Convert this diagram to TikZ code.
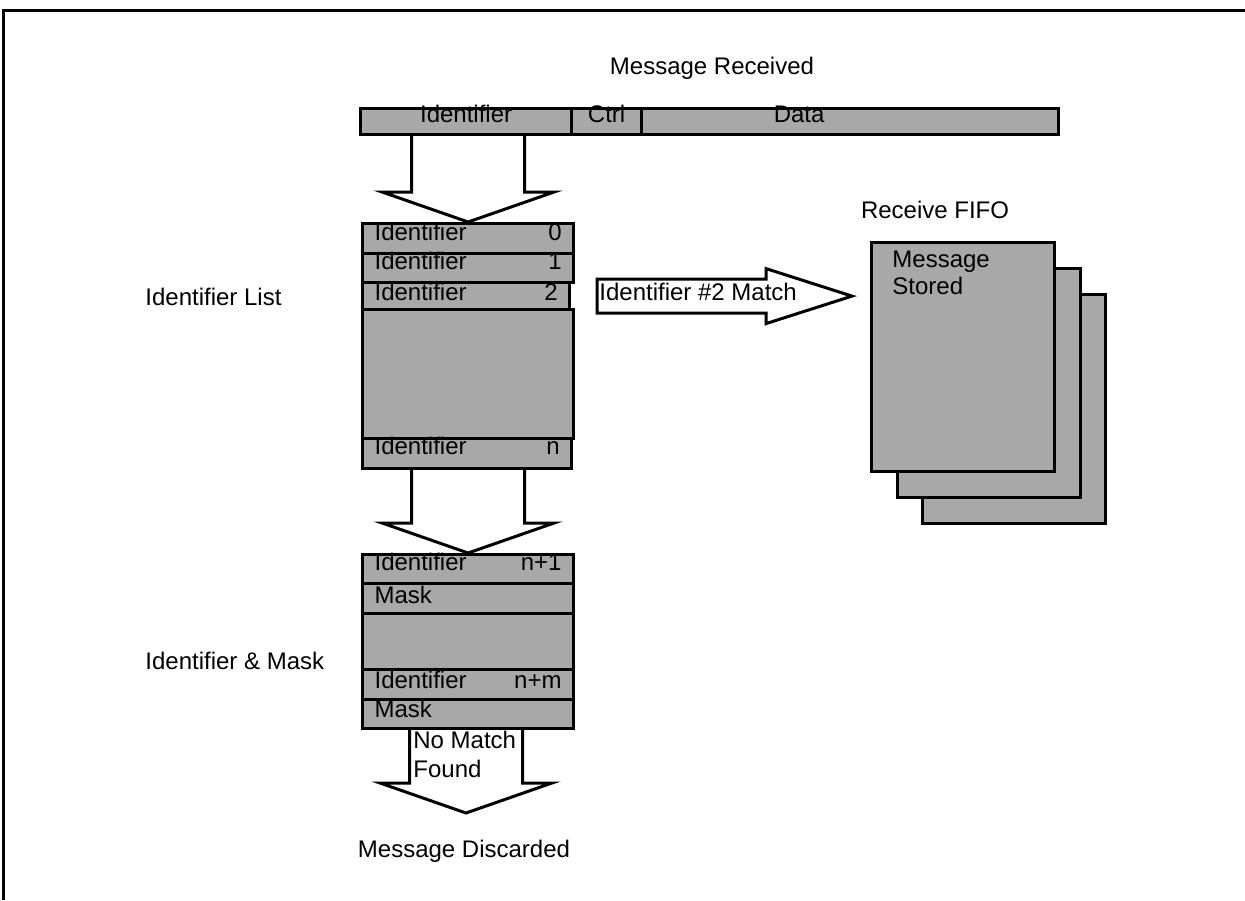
\documentclass[tikz,border=0pt]{standalone}
\usepackage{fontspec}
\setmainfont{Liberation Sans}
\usetikzlibrary{calc}
\definecolor{boxgray}{RGB}{168,168,168}

\begin{document}
\begin{tikzpicture}[x=0.5pt, y=-0.5pt, font=\fontsize{12}{14}\selectfont,
		cell/.style={rectangle, draw, fill=boxgray, line width=1.6pt, anchor=north west, inner xsep=6pt, inner ysep=0pt},
		idrow/.style={cell, text width=#1, align=left},
		txt/.style={inner sep=0pt},
		blockdown/.style={line width=1.5pt, to path={let \p1=(\tikztostart), \p2=(\tikztotarget) in
			(\x2-28.25pt,\y1) -- (\x2-28.25pt,\y2+15pt) -- (\x2-43pt,\y2+15pt) -- (\x2,\y2)
			-- (\x2+43pt,\y2+15pt) -- (\x2+28.25pt,\y2+15pt) -- (\x2+28.25pt,\y1)}},
		blockright/.style={line width=1.5pt, to path={let \p1=(\tikztostart), \p2=(\tikztotarget) in
			(\x1,\y1+8.5pt) -- (\x2-43pt,\y1+8.5pt) -- (\x2-43pt,\y1+13.75pt) -- (\x2,\y1)
			-- (\x2-43pt,\y1-13.75pt) -- (\x2-43pt,\y1-8.5pt) -- (\x1,\y1-8.5pt) -- cycle}}]
		\useasboundingbox (0,0) rectangle (1245,900);
		\draw[line width=1.5pt] (3,900) -- (3,10) -- (1245,10);

		% message fields
		\path (359,107) node[cell, minimum width=105.5pt, text height=7pt, text depth=6pt] (idfld) {Identifier}
		(570,107) node[cell, minimum width=35pt, text height=7pt, text depth=6pt] (ctrlfld) {Ctrl}
		(640,107) node[cell, minimum width=208.5pt, text height=7pt, text depth=6pt] (datafld) {Data\hspace*{51pt}};

		% identifier list
		\path (361,222) node[idrow=93.5pt, text height=8.5pt, text depth=6.5pt] (id0) {Identifier\hfill 0}
		(361,252) node[idrow=93.5pt, text height=8pt, text depth=6.5pt] (id1) {Identifier\hfill 1}
		(361,281) node[idrow=91.5pt, text height=9pt, text depth=4.5pt] (id2) {Identifier\hfill 2}
		(361,308) node[cell, minimum width=105.5pt, minimum height=64.5pt] (idgap) {}
		(361,437) node[idrow=92.5pt, text height=8pt, text depth=7pt] (idn) {Identifier\hfill n};

		% identifier and mask pairs
		\path (361,553) node[idrow=93.5pt, text height=8pt, text depth=6.5pt] (idn1) {Identifier\hfill n+1}
		(361,582) node[idrow=93.5pt, text height=10pt, text depth=5pt] (mask1) {Mask}
		(361,612) node[cell, minimum width=105.5pt, minimum height=28pt] (maskgap) {}
		(361,668) node[idrow=93.5pt, text height=9.5pt, text depth=5.5pt] (idnm) {Identifier\hfill n+m}
		(361,698) node[idrow=93.5pt, text height=9pt, text depth=5.5pt] (mask2) {Mask};

		% fifo pages, back to front
		\path (921,293) node[cell, minimum width=91.5pt, minimum height=114.5pt] (page3) {}
		(896,267) node[cell, minimum width=91.5pt, minimum height=114.5pt] (page2) {}
		(870,241) node[cell, minimum width=91.5pt, minimum height=114.5pt] (page1) {};

		\path (712,74) node[txt, anchor=base] (received) {Message Received}
		(935,218) node[txt, anchor=base] (fifo) {Receive FIFO}
		(145,305) node[txt, anchor=base west] (listlbl) {Identifier List}
		(145,669) node[txt, anchor=base west] (masklbl) {Identifier \& Mask}
		(892,294) node[txt, anchor=base west, align=left, font=\fontsize{12}{13.5}\selectfont] (stored) {Message\\Stored}
		(599,300) node[txt, anchor=base west] (matchlbl) {Identifier \#2 Match}
		(413,777) node[txt, anchor=base west, align=left, font=\fontsize{12}{14.5}\selectfont] (nomatch) {No Match\\Found}
		(464,857) node[txt, anchor=base] (discarded) {Message Discarded};
		\coordinate (droptip) at (466,813);

		\draw[blockdown] (idfld.south) to (id0.north);
		\draw[blockdown] (idn.south) to (idn1.north);
		\draw[blockdown] (mask2.south) to (droptip);
		\draw[blockright] ([xshift=13pt]id2.east) to ([xshift=-9pt]page1.west);
	\end{tikzpicture}
\end{document}
